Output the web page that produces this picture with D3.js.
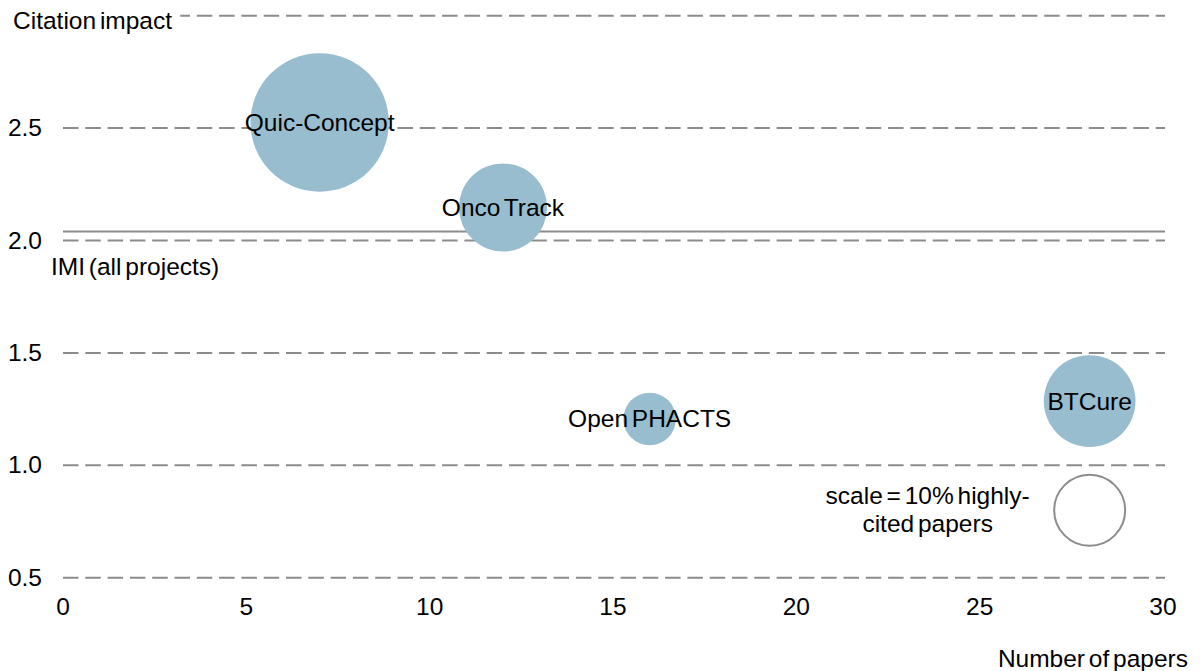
<!DOCTYPE html>
<html>
<head>
<meta charset="utf-8">
<script src="https://cdn.jsdelivr.net/npm/d3@7"></script>
<style>
  body { margin: 0; background: #fff; }
</style>
</head>
<body>
<svg id="bubbleChart" width="1200" height="671"></svg>
<script>
const projects = ["Quic-Concept", "Onco Track", "Open PHACTS", "BTCure"];
const papers = [7, 12, 16, 28];
const impact = [2.525, 2.147, 1.206, 1.286];
const highlyCited = [38, 15.4, 5.5, 16.7];   // % highly-cited papers -> bubble area

const yTicks = [0.5, 1.0, 1.5, 2.0, 2.5, 3.0];
const xTicks = [0, 5, 10, 15, 20, 25, 30];

const imiAll = 2.04;
const scalePapers = 28;
const scaleImpact = 0.8;
const scaleValue = 10;

const width = 1200;
const height = 671;
const font = "'Liberation Sans', Arial, sans-serif";
const fs = 24.5;
const gray = "#8c8c8c";
const blue = "#97bdcf";

const data = projects.map((name, i) => ({name, papers: papers[i], impact: impact[i], size: highlyCited[i]}));

const x = d3.scaleLinear()
    .domain([0, 30])
    .range([63, 1163]);

const y = d3.scaleLinear()
    .domain([0.5, 3.0])
    .range([577.7, 15.7]);

const r = d3.scaleSqrt()
    .domain([0, scaleValue])
    .range([0, 35.5]);

const svg = d3.select("#bubbleChart")
    .attr("font-family", font)
    .attr("font-size", fs)
    .attr("word-spacing", -3);

// dashed grid
svg.append("g")
    .selectAll("line")
    .data(yTicks)
    .join("line")
    .attr("x1", x(0))
    .attr("x2", x(30) + 2)
    .attr("y1", d => y(d))
    .attr("y2", d => y(d))
    .attr("stroke", gray)
    .attr("stroke-width", 2)
    .attr("stroke-dasharray", "15.5,6.8");

// y labels (top one is replaced by the axis title)
svg.append("g")
    .selectAll("text")
    .data(yTicks.slice(0, -1))
    .join("text")
    .attr("x", 42)
    .attr("y", d => y(d) + 8)
    .attr("text-anchor", "end")
    .text(d => d.toFixed(1));

// x labels
svg.append("g")
    .selectAll("text")
    .data(xTicks)
    .join("text")
    .attr("x", d => x(d))
    .attr("y", y(0.5) + 37.5)
    .attr("text-anchor", "middle")
    .text(d => d);

// IMI average line
svg.append("line")
    .attr("x1", x(0))
    .attr("x2", x(30) + 2)
    .attr("y1", y(imiAll))
    .attr("y2", y(imiAll))
    .attr("stroke", gray)
    .attr("stroke-width", 2);

svg.append("text")
    .attr("x", x(0) - 12)
    .attr("y", y(imiAll) + 43.5)
    .text("IMI (all projects)");

// axis titles
const titleBg = svg.append("rect").attr("fill", "#fff");
const title = svg.append("text")
    .attr("x", 13)
    .attr("y", y(3.0) + 13.5)
    .text("Citation impact");
const bb = title.node().getBBox();
titleBg
    .attr("x", 0)
    .attr("y", bb.y)
    .attr("width", bb.x + bb.width + 8)
    .attr("height", bb.height);

svg.append("text")
    .attr("x", 1188)
    .attr("y", 667)
    .attr("text-anchor", "end")
    .text("Number of papers");

// bubbles
svg.append("g")
    .selectAll("circle")
    .data(data)
    .join("circle")
    .attr("cx", d => x(d.papers))
    .attr("cy", d => y(d.impact))
    .attr("r", d => r(d.size))
    .attr("fill", blue);

svg.append("g")
    .selectAll("text")
    .data(data)
    .join("text")
    .attr("x", d => x(d.papers))
    .attr("y", d => y(d.impact) + 8.5)
    .attr("text-anchor", "middle")
    .text(d => d.name);

// size legend
svg.append("circle")
    .attr("cx", x(scalePapers))
    .attr("cy", y(scaleImpact))
    .attr("r", r(scaleValue))
    .attr("fill", "#fff")
    .attr("stroke", gray)
    .attr("stroke-width", 2);

const legendText = svg.append("text")
    .attr("text-anchor", "middle");
legendText.append("tspan")
    .attr("x", x(scalePapers) - 162)
    .attr("y", y(scaleImpact) - 6)
    .text("scale = 10% highly-");
legendText.append("tspan")
    .attr("x", x(scalePapers) - 162)
    .attr("y", y(scaleImpact) + 22)
    .text("cited papers");
</script>
</body>
</html>
